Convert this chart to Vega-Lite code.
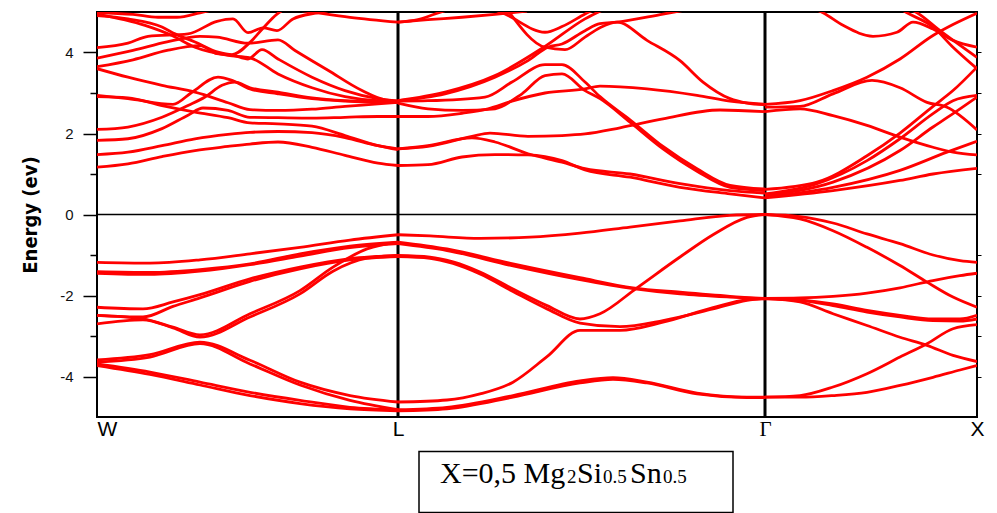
{
"$schema":"https://vega.github.io/schema/vega-lite/v6.json",
"width":880,"height":405,
"autosize":{"type":"none"},
"padding":{"left":97,"top":12,"right":20,"bottom":97},
"background":"white",
"config":{"view":{"stroke":"black","strokeWidth":2}},
"resolve":{"axis":{"y":"independent"}},
"datasets":{
"bands":[
{"b":"vWL1","k":0,"E":-1.18},{"b":"vWL1","k":53,"E":-1.2},{"b":"vWL1","k":103,"E":-1.12},{"b":"vWL1","k":153,"E":-0.97},{"b":"vWL1","k":203,"E":-0.81},{"b":"vWL1","k":253,"E":-0.63},{"b":"vWL1","k":301,"E":-0.5},
{"b":"vWL2","k":0,"E":-1.41},{"b":"vWL2","k":53,"E":-1.43},{"b":"vWL2","k":103,"E":-1.36},{"b":"vWL2","k":153,"E":-1.22},{"b":"vWL2","k":203,"E":-0.97},{"b":"vWL2","k":253,"E":-0.78},{"b":"vWL2","k":301,"E":-0.68},
{"b":"vWL3","k":0,"E":-1.45},{"b":"vWL3","k":53,"E":-1.48},{"b":"vWL3","k":103,"E":-1.4},{"b":"vWL3","k":153,"E":-1.24},{"b":"vWL3","k":203,"E":-1.03},{"b":"vWL3","k":253,"E":-0.82},{"b":"vWL3","k":301,"E":-0.72},
{"b":"vWL4","k":0,"E":-2.29},{"b":"vWL4","k":46,"E":-2.33},{"b":"vWL4","k":76,"E":-2.16},{"b":"vWL4","k":103,"E":-1.98},{"b":"vWL4","k":153,"E":-1.59},{"b":"vWL4","k":203,"E":-1.3},{"b":"vWL4","k":253,"E":-1.09},{"b":"vWL4","k":301,"E":-1.01},
{"b":"vWL5","k":0,"E":-2.49},{"b":"vWL5","k":46,"E":-2.53},{"b":"vWL5","k":76,"E":-2.27},{"b":"vWL5","k":103,"E":-2.06},{"b":"vWL5","k":153,"E":-1.65},{"b":"vWL5","k":203,"E":-1.34},{"b":"vWL5","k":253,"E":-1.12},{"b":"vWL5","k":301,"E":-1.04},
{"b":"vWL6","k":0,"E":-2.49},{"b":"vWL6","k":46,"E":-2.58},{"b":"vWL6","k":76,"E":-2.78},{"b":"vWL6","k":103,"E":-2.97},{"b":"vWL6","k":153,"E":-2.45},{"b":"vWL6","k":203,"E":-1.88},{"b":"vWL6","k":236,"E":-1.3},{"b":"vWL6","k":270,"E":-0.85},{"b":"vWL6","k":301,"E":-0.68},
{"b":"vWL7","k":0,"E":-2.7},{"b":"vWL7","k":46,"E":-2.6},{"b":"vWL7","k":76,"E":-2.8},{"b":"vWL7","k":103,"E":-3.03},{"b":"vWL7","k":153,"E":-2.53},{"b":"vWL7","k":203,"E":-1.96},{"b":"vWL7","k":236,"E":-1.4},{"b":"vWL7","k":270,"E":-1.08},{"b":"vWL7","k":301,"E":-1.01},
{"b":"vWL8","k":0,"E":-3.59},{"b":"vWL8","k":53,"E":-3.46},{"b":"vWL8","k":103,"E":-3.15},{"b":"vWL8","k":153,"E":-3.6},{"b":"vWL8","k":203,"E":-4.14},{"b":"vWL8","k":253,"E":-4.47},{"b":"vWL8","k":301,"E":-4.63},
{"b":"vWL9","k":0,"E":-3.64},{"b":"vWL9","k":53,"E":-3.52},{"b":"vWL9","k":103,"E":-3.19},{"b":"vWL9","k":153,"E":-3.69},{"b":"vWL9","k":203,"E":-4.21},{"b":"vWL9","k":253,"E":-4.59},{"b":"vWL9","k":301,"E":-4.82},
{"b":"vWL10","k":0,"E":-3.69},{"b":"vWL10","k":53,"E":-3.89},{"b":"vWL10","k":103,"E":-4.14},{"b":"vWL10","k":153,"E":-4.39},{"b":"vWL10","k":203,"E":-4.59},{"b":"vWL10","k":253,"E":-4.76},{"b":"vWL10","k":301,"E":-4.82},
{"b":"vWL11","k":0,"E":-3.73},{"b":"vWL11","k":53,"E":-3.95},{"b":"vWL11","k":103,"E":-4.21},{"b":"vWL11","k":153,"E":-4.47},{"b":"vWL11","k":203,"E":-4.67},{"b":"vWL11","k":253,"E":-4.8},{"b":"vWL11","k":301,"E":-4.85},
{"b":"vLG1","k":301,"E":-0.5},{"b":"vLG1","k":333,"E":-0.53},{"b":"vLG1","k":383,"E":-0.59},{"b":"vLG1","k":433,"E":-0.56},{"b":"vLG1","k":483,"E":-0.46},{"b":"vLG1","k":533,"E":-0.31},{"b":"vLG1","k":583,"E":-0.16},{"b":"vLG1","k":633,"E":-0.02},{"b":"vLG1","k":668,"E":0},
{"b":"vLG2","k":301,"E":-0.68},{"b":"vLG2","k":350,"E":-0.85},{"b":"vLG2","k":416,"E":-1.22},{"b":"vLG2","k":483,"E":-1.56},{"b":"vLG2","k":536,"E":-1.81},{"b":"vLG2","k":583,"E":-1.92},{"b":"vLG2","k":633,"E":-2.02},{"b":"vLG2","k":668,"E":-2.07},
{"b":"vLG3","k":301,"E":-0.72},{"b":"vLG3","k":350,"E":-0.89},{"b":"vLG3","k":416,"E":-1.27},{"b":"vLG3","k":483,"E":-1.61},{"b":"vLG3","k":536,"E":-1.83},{"b":"vLG3","k":583,"E":-1.96},{"b":"vLG3","k":633,"E":-2.04},{"b":"vLG3","k":668,"E":-2.08},
{"b":"vLG4","k":301,"E":-1.01},{"b":"vLG4","k":333,"E":-1.05},{"b":"vLG4","k":356,"E":-1.17},{"b":"vLG4","k":383,"E":-1.42},{"b":"vLG4","k":416,"E":-1.84},{"b":"vLG4","k":450,"E":-2.25},{"b":"vLG4","k":483,"E":-2.58},{"b":"vLG4","k":503,"E":-2.45},{"b":"vLG4","k":540,"E":-1.81},{"b":"vLG4","k":583,"E":-1.05},{"b":"vLG4","k":616,"E":-0.5},{"b":"vLG4","k":650,"E":-0.07},{"b":"vLG4","k":668,"E":0},
{"b":"vLG5","k":301,"E":-1.04},{"b":"vLG5","k":333,"E":-1.08},{"b":"vLG5","k":356,"E":-1.21},{"b":"vLG5","k":383,"E":-1.47},{"b":"vLG5","k":416,"E":-1.9},{"b":"vLG5","k":450,"E":-2.33},{"b":"vLG5","k":483,"E":-2.68},{"b":"vLG5","k":523,"E":-2.77},{"b":"vLG5","k":566,"E":-2.62},{"b":"vLG5","k":616,"E":-2.33},{"b":"vLG5","k":650,"E":-2.12},{"b":"vLG5","k":668,"E":-2.07},
{"b":"vLG6","k":301,"E":-4.63},{"b":"vLG6","k":350,"E":-4.58},{"b":"vLG6","k":383,"E":-4.43},{"b":"vLG6","k":416,"E":-4.14},{"b":"vLG6","k":450,"E":-3.51},{"b":"vLG6","k":483,"E":-2.86},{"b":"vLG6","k":523,"E":-2.86},{"b":"vLG6","k":566,"E":-2.66},{"b":"vLG6","k":616,"E":-2.3},{"b":"vLG6","k":650,"E":-2.1},{"b":"vLG6","k":668,"E":-2.08},
{"b":"vLG7","k":301,"E":-4.82},{"b":"vLG7","k":350,"E":-4.76},{"b":"vLG7","k":416,"E":-4.47},{"b":"vLG7","k":483,"E":-4.11},{"b":"vLG7","k":516,"E":-4.03},{"b":"vLG7","k":550,"E":-4.14},{"b":"vLG7","k":600,"E":-4.41},{"b":"vLG7","k":650,"E":-4.51},{"b":"vLG7","k":668,"E":-4.51},
{"b":"vLG8","k":301,"E":-4.85},{"b":"vLG8","k":350,"E":-4.8},{"b":"vLG8","k":416,"E":-4.51},{"b":"vLG8","k":483,"E":-4.16},{"b":"vLG8","k":516,"E":-4.07},{"b":"vLG8","k":550,"E":-4.16},{"b":"vLG8","k":600,"E":-4.43},{"b":"vLG8","k":650,"E":-4.52},{"b":"vLG8","k":668,"E":-4.52},
{"b":"vGX1","k":668,"E":0},{"b":"vGX1","k":703,"E":-0.05},{"b":"vGX1","k":736,"E":-0.21},{"b":"vGX1","k":770,"E":-0.48},{"b":"vGX1","k":803,"E":-0.72},{"b":"vGX1","k":836,"E":-1.0},{"b":"vGX1","k":863,"E":-1.14},{"b":"vGX1","k":880,"E":-1.18},
{"b":"vGX2","k":668,"E":0},{"b":"vGX2","k":703,"E":-0.11},{"b":"vGX2","k":736,"E":-0.4},{"b":"vGX2","k":770,"E":-0.81},{"b":"vGX2","k":803,"E":-1.26},{"b":"vGX2","k":830,"E":-1.67},{"b":"vGX2","k":856,"E":-2.04},{"b":"vGX2","k":880,"E":-2.29},
{"b":"vGX3","k":668,"E":-2.07},{"b":"vGX3","k":703,"E":-2.06},{"b":"vGX3","k":736,"E":-2.02},{"b":"vGX3","k":770,"E":-1.94},{"b":"vGX3","k":803,"E":-1.81},{"b":"vGX3","k":836,"E":-1.63},{"b":"vGX3","k":863,"E":-1.51},{"b":"vGX3","k":880,"E":-1.45},
{"b":"vGX4","k":668,"E":-2.07},{"b":"vGX4","k":703,"E":-2.11},{"b":"vGX4","k":736,"E":-2.21},{"b":"vGX4","k":770,"E":-2.37},{"b":"vGX4","k":803,"E":-2.49},{"b":"vGX4","k":836,"E":-2.58},{"b":"vGX4","k":863,"E":-2.58},{"b":"vGX4","k":880,"E":-2.49},
{"b":"vGX5","k":668,"E":-2.08},{"b":"vGX5","k":703,"E":-2.12},{"b":"vGX5","k":736,"E":-2.25},{"b":"vGX5","k":770,"E":-2.41},{"b":"vGX5","k":803,"E":-2.53},{"b":"vGX5","k":836,"E":-2.62},{"b":"vGX5","k":863,"E":-2.63},{"b":"vGX5","k":880,"E":-2.58},
{"b":"vGX6","k":668,"E":-2.07},{"b":"vGX6","k":703,"E":-2.16},{"b":"vGX6","k":736,"E":-2.45},{"b":"vGX6","k":770,"E":-2.74},{"b":"vGX6","k":803,"E":-3.03},{"b":"vGX6","k":830,"E":-3.23},{"b":"vGX6","k":856,"E":-3.48},{"b":"vGX6","k":880,"E":-3.63},
{"b":"vGX7","k":668,"E":-4.51},{"b":"vGX7","k":703,"E":-4.47},{"b":"vGX7","k":736,"E":-4.26},{"b":"vGX7","k":770,"E":-3.93},{"b":"vGX7","k":803,"E":-3.52},{"b":"vGX7","k":830,"E":-3.19},{"b":"vGX7","k":856,"E":-2.82},{"b":"vGX7","k":880,"E":-2.72},
{"b":"vGX8","k":668,"E":-4.51},{"b":"vGX8","k":703,"E":-4.51},{"b":"vGX8","k":736,"E":-4.47},{"b":"vGX8","k":770,"E":-4.39},{"b":"vGX8","k":803,"E":-4.22},{"b":"vGX8","k":836,"E":-4.02},{"b":"vGX8","k":863,"E":-3.84},{"b":"vGX8","k":880,"E":-3.73},
{"b":"cWL1","k":0,"E":1.17},{"b":"cWL1","k":31,"E":1.25},{"b":"cWL1","k":65,"E":1.43},{"b":"cWL1","k":98,"E":1.58},{"b":"cWL1","k":131,"E":1.68},{"b":"cWL1","k":153,"E":1.74},{"b":"cWL1","k":181,"E":1.79},{"b":"cWL1","k":215,"E":1.66},{"b":"cWL1","k":248,"E":1.46},{"b":"cWL1","k":281,"E":1.27},{"b":"cWL1","k":301,"E":1.21},
{"b":"cWL2","k":0,"E":1.48},{"b":"cWL2","k":31,"E":1.54},{"b":"cWL2","k":65,"E":1.7},{"b":"cWL2","k":98,"E":1.87},{"b":"cWL2","k":131,"E":1.98},{"b":"cWL2","k":153,"E":2.03},{"b":"cWL2","k":181,"E":2.05},{"b":"cWL2","k":215,"E":2.02},{"b":"cWL2","k":248,"E":1.9},{"b":"cWL2","k":281,"E":1.7},{"b":"cWL2","k":301,"E":1.62},
{"b":"cWL3","k":0,"E":1.83},{"b":"cWL3","k":31,"E":1.87},{"b":"cWL3","k":65,"E":2.12},{"b":"cWL3","k":91,"E":2.45},{"b":"cWL3","k":106,"E":2.63},{"b":"cWL3","k":131,"E":2.57},{"b":"cWL3","k":153,"E":2.4},{"b":"cWL3","k":181,"E":2.39},{"b":"cWL3","k":215,"E":2.38},{"b":"cWL3","k":248,"E":2.4},{"b":"cWL3","k":281,"E":2.42},{"b":"cWL3","k":301,"E":2.42},
{"b":"cWL4","k":0,"E":2.1},{"b":"cWL4","k":31,"E":2.16},{"b":"cWL4","k":65,"E":2.4},{"b":"cWL4","k":91,"E":2.69},{"b":"cWL4","k":108,"E":2.9},{"b":"cWL4","k":125,"E":3.19},{"b":"cWL4","k":138,"E":3.27},{"b":"cWL4","k":153,"E":3.13},{"b":"cWL4","k":181,"E":3.02},{"b":"cWL4","k":215,"E":2.88},{"b":"cWL4","k":248,"E":2.81},{"b":"cWL4","k":281,"E":2.78},{"b":"cWL4","k":301,"E":2.77},
{"b":"cWL5","k":0,"E":2.94},{"b":"cWL5","k":31,"E":2.86},{"b":"cWL5","k":76,"E":2.72},{"b":"cWL5","k":95,"E":3.02},{"b":"cWL5","k":121,"E":3.39},{"b":"cWL5","k":135,"E":3.31},{"b":"cWL5","k":153,"E":3.1},{"b":"cWL5","k":181,"E":2.98},{"b":"cWL5","k":215,"E":2.86},{"b":"cWL5","k":248,"E":2.8},{"b":"cWL5","k":301,"E":2.76},
{"b":"cWL6","k":0,"E":2.91},{"b":"cWL6","k":31,"E":2.88},{"b":"cWL6","k":65,"E":2.69},{"b":"cWL6","k":98,"E":2.53},{"b":"cWL6","k":131,"E":2.39},{"b":"cWL6","k":153,"E":2.26},{"b":"cWL6","k":181,"E":2.24},{"b":"cWL6","k":215,"E":2.18},{"b":"cWL6","k":248,"E":1.95},{"b":"cWL6","k":281,"E":1.7},{"b":"cWL6","k":301,"E":1.6},
{"b":"cWL7","k":0,"E":3.6},{"b":"cWL7","k":31,"E":3.39},{"b":"cWL7","k":65,"E":3.19},{"b":"cWL7","k":98,"E":3.02},{"b":"cWL7","k":131,"E":2.76},{"b":"cWL7","k":153,"E":2.59},{"b":"cWL7","k":181,"E":2.57},{"b":"cWL7","k":215,"E":2.6},{"b":"cWL7","k":248,"E":2.67},{"b":"cWL7","k":281,"E":2.73},{"b":"cWL7","k":301,"E":2.77},
{"b":"cWLa","k":0,"E":4.12},{"b":"cWLa","k":31,"E":4.23},{"b":"cWLa","k":51,"E":4.4},{"b":"cWLa","k":91,"E":4.46},{"b":"cWLa","k":120,"E":4.77},{"b":"cWLa","k":136,"E":4.83},{"b":"cWLa","k":151,"E":4.49},{"b":"cWLa","k":166,"E":4.61},{"b":"cWLa","k":180,"E":4.54},{"b":"cWLa","k":196,"E":4.83},{"b":"cWLa","k":220,"E":4.98},{"b":"cWLa","k":235,"E":5.05},
{"b":"cWLb","k":0,"E":3.86},{"b":"cWLb","k":36,"E":4.05},{"b":"cWLb","k":70,"E":4.26},{"b":"cWLb","k":103,"E":4.4},{"b":"cWLb","k":120,"E":4.38},{"b":"cWLb","k":151,"E":4.23},{"b":"cWLb","k":181,"E":4.31},{"b":"cWLb","k":198,"E":4.05},{"b":"cWLb","k":231,"E":3.56},{"b":"cWLb","k":265,"E":3.06},{"b":"cWLb","k":288,"E":2.83},{"b":"cWLb","k":301,"E":2.8},
{"b":"cWLc","k":0,"E":3.65},{"b":"cWLc","k":36,"E":3.82},{"b":"cWLc","k":70,"E":4.05},{"b":"cWLc","k":103,"E":4.17},{"b":"cWLc","k":120,"E":3.97},{"b":"cWLc","k":136,"E":3.93},{"b":"cWLc","k":151,"E":3.84},{"b":"cWLc","k":165,"E":4.07},{"b":"cWLc","k":181,"E":3.84},{"b":"cWLc","k":215,"E":3.39},{"b":"cWLc","k":248,"E":3.06},{"b":"cWLc","k":281,"E":2.86},{"b":"cWLc","k":301,"E":2.8},
{"b":"cWLd","k":0,"E":4.95},{"b":"cWLd","k":48,"E":4.67},{"b":"cWLd","k":75,"E":4.42},{"b":"cWLd","k":98,"E":4.13},{"b":"cWLd","k":131,"E":3.93},{"b":"cWLd","k":153,"E":3.87},{"b":"cWLd","k":181,"E":3.47},{"b":"cWLd","k":215,"E":3.13},{"b":"cWLd","k":248,"E":2.91},{"b":"cWLd","k":281,"E":2.81},{"b":"cWLd","k":301,"E":2.8},
{"b":"cWLe","k":0,"E":4.91},{"b":"cWLe","k":31,"E":4.83},{"b":"cWLe","k":65,"E":4.63},{"b":"cWLe","k":78,"E":4.46},{"b":"cWLe","k":98,"E":4.26},{"b":"cWLe","k":121,"E":4.01},{"b":"cWLe","k":135,"E":3.95},{"b":"cWLe","k":153,"E":4.25},{"b":"cWLe","k":166,"E":4.6},{"b":"cWLe","k":180,"E":4.95},{"b":"cWLe","k":186,"E":5.05},
{"b":"cWLg","k":0,"E":4.98},{"b":"cWLg","k":36,"E":4.94},{"b":"cWLg","k":61,"E":4.87},{"b":"cWLg","k":80,"E":4.87},{"b":"cWLg","k":103,"E":4.98},{"b":"cWLg","k":115,"E":5.05},
{"b":"cWLi","k":200,"E":5.05},{"b":"cWLi","k":220,"E":4.98},{"b":"cWLi","k":253,"E":4.87},{"b":"cWLi","k":301,"E":4.75},
{"b":"cLG1","k":301,"E":1.21},{"b":"cLG1","k":331,"E":1.23},{"b":"cLG1","k":365,"E":1.42},{"b":"cLG1","k":398,"E":1.48},{"b":"cLG1","k":431,"E":1.47},{"b":"cLG1","k":465,"E":1.33},{"b":"cLG1","k":488,"E":1.1},{"b":"cLG1","k":533,"E":0.92},{"b":"cLG1","k":583,"E":0.67},{"b":"cLG1","k":633,"E":0.51},{"b":"cLG1","k":668,"E":0.41},
{"b":"cLG2","k":301,"E":1.62},{"b":"cLG2","k":331,"E":1.7},{"b":"cLG2","k":375,"E":1.89},{"b":"cLG2","k":398,"E":1.79},{"b":"cLG2","k":431,"E":1.5},{"b":"cLG2","k":465,"E":1.29},{"b":"cLG2","k":488,"E":1.13},{"b":"cLG2","k":533,"E":1.0},{"b":"cLG2","k":583,"E":0.76},{"b":"cLG2","k":633,"E":0.59},{"b":"cLG2","k":668,"E":0.53},
{"b":"cLG3","k":301,"E":1.62},{"b":"cLG3","k":331,"E":1.68},{"b":"cLG3","k":375,"E":1.93},{"b":"cLG3","k":393,"E":2.01},{"b":"cLG3","k":431,"E":1.93},{"b":"cLG3","k":465,"E":1.95},{"b":"cLG3","k":488,"E":1.99},{"b":"cLG3","k":523,"E":2.14},{"b":"cLG3","k":566,"E":2.36},{"b":"cLG3","k":623,"E":2.58},{"b":"cLG3","k":668,"E":2.54},
{"b":"cLG4","k":301,"E":2.42},{"b":"cLG4","k":331,"E":2.42},{"b":"cLG4","k":365,"E":2.5},{"b":"cLG4","k":391,"E":2.61},{"b":"cLG4","k":415,"E":2.8},{"b":"cLG4","k":448,"E":3.0},{"b":"cLG4","k":488,"E":3.1},{"b":"cLG4","k":503,"E":3.17},{"b":"cLG4","k":550,"E":3.1},{"b":"cLG4","k":600,"E":2.94},{"b":"cLG4","k":633,"E":2.8},{"b":"cLG4","k":668,"E":2.72},
{"b":"cLG5","k":301,"E":2.75},{"b":"cLG5","k":331,"E":2.61},{"b":"cLG5","k":365,"E":2.57},{"b":"cLG5","k":395,"E":2.6},{"b":"cLG5","k":425,"E":2.98},{"b":"cLG5","k":448,"E":3.43},{"b":"cLG5","k":465,"E":3.47},{"b":"cLG5","k":488,"E":3.06},{"b":"cLG5","k":503,"E":2.86},{"b":"cLG5","k":533,"E":2.28},{"b":"cLG5","k":566,"E":1.62},{"b":"cLG5","k":600,"E":1.07},{"b":"cLG5","k":633,"E":0.67},{"b":"cLG5","k":668,"E":0.59},
{"b":"cLG6","k":301,"E":2.8},{"b":"cLG6","k":331,"E":2.81},{"b":"cLG6","k":388,"E":2.9},{"b":"cLG6","k":415,"E":3.27},{"b":"cLG6","k":448,"E":3.7},{"b":"cLG6","k":465,"E":3.7},{"b":"cLG6","k":488,"E":3.27},{"b":"cLG6","k":503,"E":2.91},{"b":"cLG6","k":533,"E":2.34},{"b":"cLG6","k":566,"E":1.68},{"b":"cLG6","k":600,"E":1.13},{"b":"cLG6","k":633,"E":0.72},{"b":"cLG6","k":668,"E":0.63},
{"b":"cLG7","k":301,"E":2.81},{"b":"cLG7","k":348,"E":2.98},{"b":"cLG7","k":398,"E":3.39},{"b":"cLG7","k":431,"E":3.8},{"b":"cLG7","k":451,"E":4.13},{"b":"cLG7","k":465,"E":4.21},{"b":"cLG7","k":488,"E":4.54},{"b":"cLG7","k":503,"E":4.71},{"b":"cLG7","k":520,"E":4.75},{"b":"cLG7","k":566,"E":4.95},{"b":"cLG7","k":600,"E":5.1},
{"b":"cLG8","k":301,"E":2.81},{"b":"cLG8","k":348,"E":3.02},{"b":"cLG8","k":398,"E":3.43},{"b":"cLG8","k":448,"E":4.15},{"b":"cLG8","k":488,"E":4.83},{"b":"cLG8","k":510,"E":5.1},
{"b":"cLG9","k":398,"E":5.05},{"b":"cLG9","k":408,"E":4.95},{"b":"cLG9","k":448,"E":4.5},{"b":"cLG9","k":465,"E":4.64},{"b":"cLG9","k":488,"E":4.95},{"b":"cLG9","k":500,"E":5.1},
{"b":"cLG10","k":412,"E":5.0},{"b":"cLG10","k":448,"E":4.13},{"b":"cLG10","k":468,"E":4.07},{"b":"cLG10","k":488,"E":4.38},{"b":"cLG10","k":503,"E":4.61},{"b":"cLG10","k":520,"E":4.75},{"b":"cLG10","k":550,"E":4.3},{"b":"cLG10","k":583,"E":3.8},{"b":"cLG10","k":606,"E":3.27},{"b":"cLG10","k":633,"E":2.86},{"b":"cLG10","k":650,"E":2.75},{"b":"cLG10","k":668,"E":2.71},
{"b":"cLG11","k":301,"E":4.75},{"b":"cLG11","k":331,"E":4.81},{"b":"cLG11","k":365,"E":4.87},{"b":"cLG11","k":398,"E":4.94},{"b":"cLG11","k":430,"E":5.02},
{"b":"cLG12","k":301,"E":4.75},{"b":"cLG12","k":321,"E":4.81},{"b":"cLG12","k":338,"E":4.95},{"b":"cLG12","k":350,"E":5.05},
{"b":"cGX1","k":668,"E":2.72},{"b":"cGX1","k":703,"E":2.81},{"b":"cGX1","k":736,"E":3.06},{"b":"cGX1","k":770,"E":3.39},{"b":"cGX1","k":803,"E":3.84},{"b":"cGX1","k":836,"E":4.42},{"b":"cGX1","k":856,"E":4.69},{"b":"cGX1","k":880,"E":4.97},
{"b":"cGX2","k":668,"E":2.65},{"b":"cGX2","k":703,"E":2.67},{"b":"cGX2","k":736,"E":2.98},{"b":"cGX2","k":775,"E":3.31},{"b":"cGX2","k":803,"E":3.13},{"b":"cGX2","k":830,"E":2.77},{"b":"cGX2","k":850,"E":2.65},{"b":"cGX2","k":880,"E":2.09},
{"b":"cGX3","k":668,"E":2.54},{"b":"cGX3","k":703,"E":2.61},{"b":"cGX3","k":736,"E":2.44},{"b":"cGX3","k":770,"E":2.2},{"b":"cGX3","k":803,"E":1.91},{"b":"cGX3","k":836,"E":1.66},{"b":"cGX3","k":856,"E":1.54},{"b":"cGX3","k":880,"E":1.47},
{"b":"cGX4","k":668,"E":0.62},{"b":"cGX4","k":720,"E":0.8},{"b":"cGX4","k":770,"E":1.45},{"b":"cGX4","k":803,"E":2.01},{"b":"cGX4","k":836,"E":2.67},{"b":"cGX4","k":856,"E":3.06},{"b":"cGX4","k":880,"E":3.64},
{"b":"cGX5","k":668,"E":0.51},{"b":"cGX5","k":720,"E":0.76},{"b":"cGX5","k":770,"E":1.33},{"b":"cGX5","k":803,"E":1.87},{"b":"cGX5","k":836,"E":2.49},{"b":"cGX5","k":856,"E":2.81},{"b":"cGX5","k":880,"E":2.94},
{"b":"cGX6","k":668,"E":0.47},{"b":"cGX6","k":736,"E":0.8},{"b":"cGX6","k":803,"E":1.58},{"b":"cGX6","k":836,"E":2.16},{"b":"cGX6","k":850,"E":2.39},{"b":"cGX6","k":880,"E":2.9},
{"b":"cGX7","k":668,"E":0.43},{"b":"cGX7","k":736,"E":0.67},{"b":"cGX7","k":803,"E":1.09},{"b":"cGX7","k":850,"E":1.54},{"b":"cGX7","k":880,"E":1.81},
{"b":"cGX8","k":668,"E":0.41},{"b":"cGX8","k":736,"E":0.59},{"b":"cGX8","k":803,"E":0.84},{"b":"cGX8","k":836,"E":1.0},{"b":"cGX8","k":880,"E":1.14},
{"b":"cGX9","k":715,"E":5.1},{"b":"cGX9","k":726,"E":4.98},{"b":"cGX9","k":746,"E":4.67},{"b":"cGX9","k":776,"E":4.4},{"b":"cGX9","k":800,"E":4.5},{"b":"cGX9","k":816,"E":4.75},{"b":"cGX9","k":836,"E":4.58},{"b":"cGX9","k":856,"E":4.3},{"b":"cGX9","k":880,"E":4.13},
{"b":"cGX10","k":805,"E":5.05},{"b":"cGX10","k":810,"E":4.98},{"b":"cGX10","k":836,"E":4.63},{"b":"cGX10","k":856,"E":4.13},{"b":"cGX10","k":880,"E":3.6},
{"b":"cGX11","k":810,"E":5.1},{"b":"cGX11","k":820,"E":4.98},{"b":"cGX11","k":843,"E":4.54},{"b":"cGX11","k":880,"E":3.88}
],
"kpoints":[{"k":301,"name":"L"},{"k":668,"name":"Γ"}]
},
"layer":[
{"data":{"name":"kpoints"},"mark":{"type":"rule","color":"black","strokeWidth":3},
 "encoding":{"x":{"field":"k","type":"quantitative","scale":{"domain":[0,880],"nice":false,"zero":false}}}},
{"data":{"values":[{}]},"mark":{"type":"rule","color":"black","strokeWidth":1.5},
 "encoding":{"y":{"datum":0,"type":"quantitative","scale":{"domain":[-5,5],"nice":false,"zero":false},
   "axis":{"orient":"left","values":[-3,-1,1,3],"labels":false,"tickSize":7,"tickColor":"black","tickWidth":1.5,"domain":false,"title":null,"grid":false}}}},
{"data":{"values":[{}]},"mark":{"type":"rule","color":"black","opacity":0},
 "encoding":{"y":{"datum":0,"type":"quantitative",
   "axis":{"orient":"right","values":[-4,-3,-2,-1,1,2,3,4],"labels":false,"tickSize":4,"tickColor":"black","tickWidth":1,"domain":false,"title":null,"grid":false}}}},
{"data":{"name":"bands"},"mark":{"type":"line","color":"#ff0000","strokeWidth":2.8,"clip":true,"interpolate":"monotone"},
 "encoding":{
  "x":{"field":"k","type":"quantitative","scale":{"domain":[0,880],"nice":false,"zero":false},
   "axis":{"values":[0,301,668,880],"labelExpr":"datum.value == 0 ? 'W' : datum.value == 301 ? 'L' : datum.value == 668 ? 'Γ' : 'X'",
     "ticks":false,"domain":false,"grid":false,"title":null,"labelFontSize":21,"labelColor":"black","labelPadding":1,
     "labelFont":{"condition":{"test":"datum.value == 668","value":"Liberation Serif"},"value":"Liberation Sans"},
     "labelAlign":{"condition":{"test":"datum.value == 0","value":"left"},"value":"center"},"labelFlush":false,"labelOverlap":false}},
  "y":{"field":"E","type":"quantitative","scale":{"domain":[-5,5],"nice":false,"zero":false},
   "axis":{"orient":"left","values":[-4,-2,0,2,4],"labelExpr":"'' + datum.value",
     "tickSize":14,"tickColor":"black","tickWidth":1.5,"domain":false,"grid":false,
     "labelFont":"Liberation Sans","labelFontSize":15,"labelColor":"#111","labelPadding":10,
     "title":"Energy (ev)","titleFont":"DejaVu Sans Condensed, Liberation Sans","titleFontWeight":"bold","titleFontSize":20,"titleColor":"black","titlePadding":19}},
  "detail":{"field":"b","type":"nominal"}}},
{"data":{"values":[{}]},"mark":{"type":"rect","fill":"white","fillOpacity":0,"stroke":"black","strokeWidth":1.5,"clip":false},
 "encoding":{"x":{"datum":322,"type":"quantitative"},"x2":{"datum":636},"y":{"datum":-5.85,"type":"quantitative","axis":null},"y2":{"datum":-7.36}}},
{"data":{"values":[{}]},"mark":{"type":"text","text":"X=0,5 Mg","font":"Liberation Serif","fontSize":30,"align":"left","baseline":"alphabetic","color":"black"},
 "encoding":{"x":{"datum":343,"type":"quantitative"},"y":{"datum":-6.64,"type":"quantitative","axis":null}}},
{"data":{"values":[{}]},"mark":{"type":"text","text":"2","font":"Liberation Serif","fontSize":19,"align":"left","baseline":"alphabetic","color":"black"},
 "encoding":{"x":{"datum":470,"type":"quantitative"},"y":{"datum":-6.64,"type":"quantitative","axis":null}}},
{"data":{"values":[{}]},"mark":{"type":"text","text":"Si","font":"Liberation Serif","fontSize":30,"align":"left","baseline":"alphabetic","color":"black"},
 "encoding":{"x":{"datum":480,"type":"quantitative"},"y":{"datum":-6.64,"type":"quantitative","axis":null}}},
{"data":{"values":[{}]},"mark":{"type":"text","text":"0.5","font":"Liberation Serif","fontSize":19,"align":"left","baseline":"alphabetic","color":"black"},
 "encoding":{"x":{"datum":506,"type":"quantitative"},"y":{"datum":-6.64,"type":"quantitative","axis":null}}},
{"data":{"values":[{}]},"mark":{"type":"text","text":"Sn","font":"Liberation Serif","fontSize":30,"align":"left","baseline":"alphabetic","color":"black"},
 "encoding":{"x":{"datum":533,"type":"quantitative"},"y":{"datum":-6.64,"type":"quantitative","axis":null}}},
{"data":{"values":[{}]},"mark":{"type":"text","text":"0.5","font":"Liberation Serif","fontSize":19,"align":"left","baseline":"alphabetic","color":"black"},
 "encoding":{"x":{"datum":566,"type":"quantitative"},"y":{"datum":-6.64,"type":"quantitative","axis":null}}}
]
}
